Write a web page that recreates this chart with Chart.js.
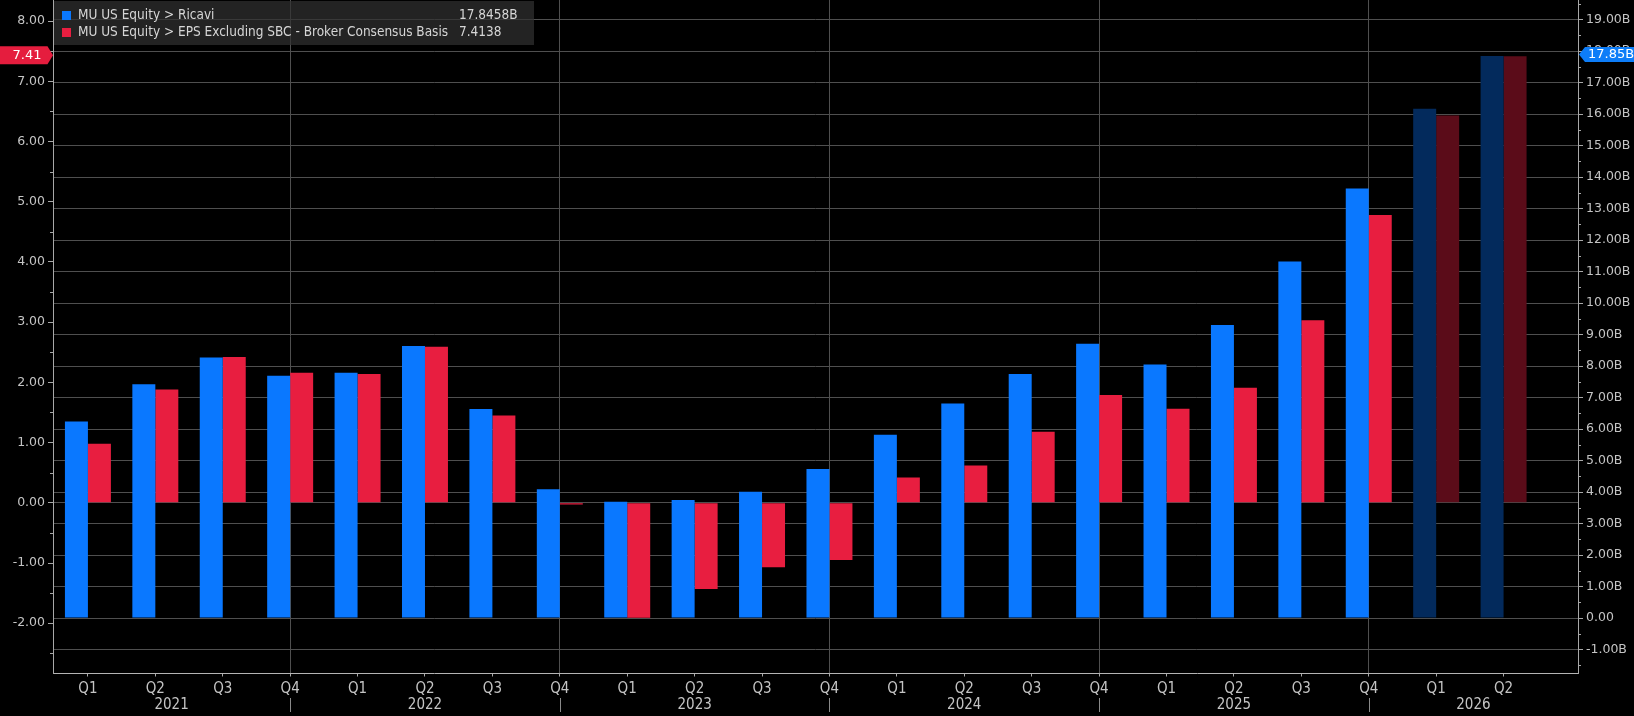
<!DOCTYPE html>
<html><head><meta charset="utf-8">
<script src="https://cdn.jsdelivr.net/npm/chart.js@4"></script>
<style>html,body{margin:0;padding:0;background:#000;overflow:hidden}canvas{display:block}</style>
</head><body>
<canvas id="c" width="1634" height="716"></canvas>
<script>
// ---- data ----
const quarters = ['Q1','Q2','Q3','Q4','Q1','Q2','Q3','Q4','Q1','Q2','Q3','Q4','Q1','Q2','Q3','Q4','Q1','Q2','Q3','Q4','Q1','Q2'];
const years = ['2021','2022','2023','2024','2025','2026'];
const revenueB = [6.24,7.42,8.27,7.69,7.79,8.64,6.64,4.09,3.69,3.75,4.01,4.73,5.82,6.81,7.75,8.71,8.05,9.30,11.32,13.64,16.17,17.8458];
const epsExSBC = [0.98,1.88,2.42,2.16,2.14,2.59,1.45,-0.03,-1.91,-1.43,-1.07,-0.95,0.42,0.62,1.18,1.79,1.56,1.91,3.03,4.78,6.43,7.4138];
const isEstimate = [false,false,false,false,false,false,false,false,false,false,false,false,false,false,false,false,false,false,false,false,true,true];
const seriesNames = ['MU US Equity > Ricavi','MU US Equity > EPS Excluding SBC - Broker Consensus Basis'];
const seriesLastValues = ['17.8458B','7.4138'];
const badgeLabels = ['17.85B','7.41'];
const leftTickValues = [-2,-1,0,1,2,3,4,5,6,7,8];
const rightTickValues = [-1,0,1,2,3,4,5,6,7,8,9,10,11,12,13,14,15,16,17,18,19];

// ---- styles ----
const BLUE='#0a78ff', BLUE_EST='#032a5c', RED='#e81e40', RED_EST='#5b0c19';
const GRID='#4f4f4f', AXIS='#a8a8a8', TXT='#c4c4c4';
const sepIdx = quarters.map((q,i)=>q==='Q4'?i:-1).filter(i=>i>=0);

const overlay = {
  id:'overlay',
  afterDatasetsDraw(chart){
    const ctx = chart.ctx, x = chart.scales.x, yL = chart.scales.yL, yR = chart.scales.yR;
    const area = chart.chartArea;
    ctx.save();
    // minor ticks
    ctx.strokeStyle = AXIS; ctx.lineWidth = 1;
    for (let v = Math.ceil(yL.min)-0.5; v < yL.max; v += 1){
      if (v < yL.min) continue;
      const p = Math.round(yL.getPixelForValue(v))+0.5;
      ctx.beginPath(); ctx.moveTo(area.left-3,p); ctx.lineTo(area.left,p); ctx.stroke();
    }
    for (let v = Math.floor(yR.min)+0.5; v < yR.max; v += 1){
      if (v < yR.min) continue;
      const p = Math.round(yR.getPixelForValue(v))+0.5;
      ctx.beginPath(); ctx.moveTo(area.right,p); ctx.lineTo(area.right+3,p); ctx.stroke();
    }
    // year labels and separators
    const bounds = [x.min, ...sepIdx, x.max];
    ctx.fillStyle = TXT; ctx.font = '15px "Liberation Sans Narrow", "DejaVu Sans Condensed", sans-serif';
    ctx.textAlign = 'center'; ctx.textBaseline = 'middle';
    years.forEach((yr,i)=>{
      const c = (x.getPixelForValue(bounds[i]) + x.getPixelForValue(bounds[i+1]))/2;
      ctx.fillText(yr, c, 705);
    });
    ctx.strokeStyle = '#8a8a8a';
    sepIdx.forEach(i=>{
      const p = Math.round(x.getPixelForValue(i))+0.5;
      ctx.beginPath(); ctx.moveTo(p,698); ctx.lineTo(p,712); ctx.stroke();
    });
    // legend box
    ctx.fillStyle = 'rgba(48,48,48,0.72)';
    ctx.fillRect(area.left+1, 1, 480, 44);
    const colors = [BLUE, RED];
    ctx.font = '13.5px "DejaVu Sans Condensed", "DejaVu Sans", sans-serif';
    ctx.textAlign = 'left';
    [15.5, 32.5].forEach((ry,i)=>{
      ctx.fillStyle = colors[i];
      ctx.fillRect(62, ry-4.5, 9, 9);
      ctx.fillStyle = '#d6d6d6';
      ctx.fillText(seriesNames[i], 78, ry);
      ctx.fillText(seriesLastValues[i], 459, ry);
    });
    // badges
    const last = revenueB.length-1;
    const cl = yL.getPixelForValue(epsExSBC[last]) - 1;
    ctx.fillStyle = '#e51d3e';
    ctx.beginPath();
    ctx.moveTo(0,cl-9); ctx.lineTo(47.5,cl-9); ctx.lineTo(53,cl); ctx.lineTo(47.5,cl+9); ctx.lineTo(0,cl+9); ctx.closePath(); ctx.fill();
    ctx.fillStyle = '#fff'; ctx.font = '13px "DejaVu Sans", sans-serif'; ctx.textAlign='center';
    ctx.fillText(badgeLabels[1], 27, cl+0.5);
    const cr = yR.getPixelForValue(revenueB[last]) - 1.5;
    ctx.fillStyle = '#0d7df8';
    ctx.beginPath();
    ctx.moveTo(area.right+1,cr); ctx.lineTo(area.right+7,cr-7.5); ctx.lineTo(1634,cr-7.5); ctx.lineTo(1634,cr+7.5); ctx.lineTo(area.right+7,cr+7.5); ctx.closePath(); ctx.fill();
    ctx.fillStyle = '#fff'; ctx.font = '13px "DejaVu Sans", sans-serif'; ctx.textAlign='left';
    ctx.fillText(badgeLabels[0], area.right+10, cr+0.5);
    ctx.restore();
  }
};

const fixPad = s => { s.paddingTop = 0; s.paddingBottom = 0; s.paddingLeft = 0; s.paddingRight = 0; };
const yFont = {family:'"DejaVu Sans", sans-serif', size:12.5};

new Chart(document.getElementById('c'), {
  type:'bar',
  data:{
    datasets:[
      {label:seriesNames[0], yAxisID:'yR', data:revenueB.map((v,i)=>({x:i,y:v})),
       backgroundColor:isEstimate.map(e=>e?BLUE_EST:BLUE), borderWidth:0},
      {label:seriesNames[1], yAxisID:'yL', data:epsExSBC.map((v,i)=>({x:i,y:v})),
       backgroundColor:isEstimate.map(e=>e?RED_EST:RED), borderWidth:0}
    ]
  },
  options:{
    responsive:false, animation:false, devicePixelRatio:1,
    layout:{padding:0},
    plugins:{legend:{display:false}, tooltip:{enabled:false}},
    datasets:{bar:{barPercentage:1, categoryPercentage:0.682}},
    scales:{
      x:{type:'linear', min:-0.518, max:22.104, offset:false,
        afterBuildTicks:s=>{ s.ticks = quarters.map((q,i)=>({value:i})); },
        afterFit:s=>{ s.height = 42.5; fixPad(s); },
        ticks:{autoSkip:false, maxRotation:0, padding:4, color:TXT,
          font:{family:'"Liberation Sans Narrow", "DejaVu Sans Condensed", sans-serif', size:15},
          callback:(v)=>quarters[v]},
        grid:{offset:false, color:c=>(c.tick && sepIdx.includes(c.tick.value))?GRID:'rgba(0,0,0,0)', tickColor:AXIS, tickLength:3, drawTicks:true},
        border:{color:'#b4b4b4', display:true}
      },
      yL:{type:'linear', position:'left', min:-2.835, max:8.35,
        afterBuildTicks:s=>{ s.ticks = leftTickValues.map(v=>({value:v})); },
        afterFit:s=>{ s.width = 53; fixPad(s); },
        ticks:{color:TXT, font:yFont, padding:3, callback:v=>v.toFixed(2)},
        grid:{color:c=>(c.tick && c.tick.value===0)?GRID:'rgba(0,0,0,0)', tickColor:AXIS, tickLength:5},
        border:{color:AXIS, display:true}
      },
      yR:{type:'linear', position:'right', min:-1.76, max:19.62,
        afterBuildTicks:s=>{ s.ticks = rightTickValues.map(v=>({value:v})); },
        afterFit:s=>{ s.width = 56; fixPad(s); },
        ticks:{color:TXT, font:yFont, padding:3, callback:v=>v===0?'0.00':v.toFixed(2)+'B'},
        grid:{color:GRID, tickColor:AXIS, tickLength:5},
        border:{color:AXIS, display:true}
      }
    }
  },
  plugins:[overlay]
});
</script>
</body></html>
